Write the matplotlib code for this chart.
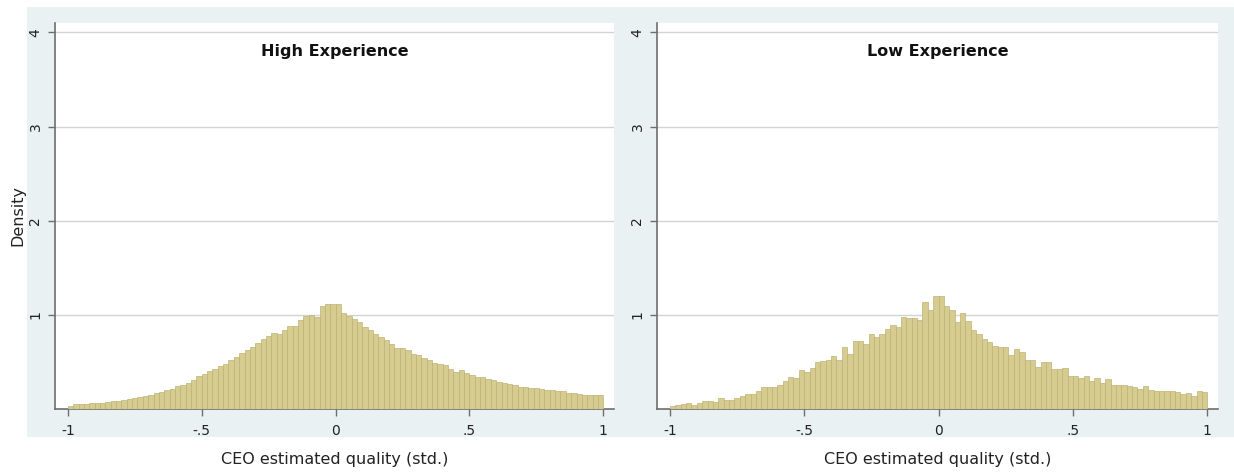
import numpy as np
import matplotlib
matplotlib.use("Agg")
import matplotlib.pyplot as plt
from matplotlib.patches import Rectangle

# histogram densities, 100 bins of width .02 on [-1, 1]
bin_edges = np.linspace(-1, 1, 101)

high_exp = [0.036, 0.054, 0.054, 0.056, 0.06, 0.064, 0.068, 0.075, 0.08, 0.09,
            0.10, 0.105, 0.115, 0.125, 0.14, 0.15, 0.165, 0.18, 0.20, 0.215,
            0.24, 0.26, 0.28, 0.31, 0.35, 0.37, 0.40, 0.43, 0.46, 0.48,
            0.52, 0.55, 0.60, 0.625, 0.66, 0.70, 0.74, 0.78, 0.81, 0.80,
            0.84, 0.88, 0.88, 0.946, 0.99, 1.00, 0.975, 1.09, 1.12, 1.12,
            1.12, 1.025, 0.99, 0.955, 0.92, 0.875, 0.84, 0.80, 0.77, 0.73,
            0.69, 0.645, 0.645, 0.63, 0.585, 0.575, 0.545, 0.525, 0.49, 0.48,
            0.47, 0.43, 0.39, 0.415, 0.38, 0.36, 0.345, 0.335, 0.315, 0.305,
            0.29, 0.28, 0.265, 0.255, 0.235, 0.23, 0.225, 0.22, 0.215, 0.205,
            0.20, 0.195, 0.19, 0.175, 0.165, 0.16, 0.15, 0.145, 0.145, 0.145]

low_exp = [0.03, 0.04, 0.055, 0.065, 0.047, 0.065, 0.09, 0.09, 0.075, 0.12,
           0.10, 0.10, 0.12, 0.137, 0.16, 0.155, 0.19, 0.23, 0.234, 0.234,
           0.25, 0.30, 0.34, 0.33, 0.41, 0.39, 0.435, 0.50, 0.51, 0.52,
           0.56, 0.52, 0.66, 0.58, 0.72, 0.72, 0.69, 0.80, 0.76, 0.80,
           0.845, 0.89, 0.87, 0.975, 0.965, 0.965, 0.946, 1.14, 1.05, 1.20,
           1.20, 1.09, 1.05, 0.92, 1.02, 0.94, 0.84, 0.80, 0.74, 0.71,
           0.67, 0.66, 0.66, 0.57, 0.64, 0.61, 0.52, 0.52, 0.45, 0.50,
           0.50, 0.42, 0.43, 0.44, 0.35, 0.35, 0.33, 0.35, 0.30, 0.33,
           0.28, 0.32, 0.25, 0.25, 0.26, 0.24, 0.23, 0.21, 0.24, 0.20,
           0.19, 0.19, 0.19, 0.19, 0.18, 0.16, 0.17, 0.14, 0.19, 0.18]

panels = [("High Experience", high_exp), ("Low Experience", low_exp)]

xticks = [-1, -0.5, 0, 0.5, 1]
xticklabels = ["-1", "-.5", "0", ".5", "1"]
yticks = [1, 2, 3, 4]

W, H = 1234, 475
fig = plt.figure(figsize=(W / 100, H / 100), dpi=100)
fig.patch.set_facecolor("white")
# light bluish graph region behind both panels
fig.patches.append(Rectangle((27 / W, 38 / H), 1 - 27 / W, 430 / H,
                             transform=fig.transFigure, facecolor="#EAF1F3",
                             edgecolor="none", zorder=-1))

axis_gray = "#6E6E6E"
lefts = [55, 657]
widths = [559, 561]

for k, (title, dens) in enumerate(panels):
    ax = fig.add_axes([lefts[k] / W, (H - 409) / H, widths[k] / W, 386 / H])
    ax.set_facecolor("white")
    ax.bar(bin_edges[:-1], dens, width=np.diff(bin_edges), align="edge",
           color="#D6CC8F", edgecolor="#BDB275", linewidth=0.5, zorder=3)

    ax.set_xlim(-1.048, 1.04)
    ax.set_ylim(0, 4.1)
    ax.set_xticks(xticks)
    ax.set_xticklabels(xticklabels, fontsize=10)
    ax.set_yticks(yticks)
    ax.set_yticklabels([str(t) for t in yticks], fontsize=10, rotation=90, va="center")
    ax.yaxis.grid(True, color="#D3D3D3", linewidth=1)
    ax.set_axisbelow(True)

    for s in ["top", "right"]:
        ax.spines[s].set_visible(False)
    for s in ["left", "bottom"]:
        ax.spines[s].set_color(axis_gray)
        ax.spines[s].set_linewidth(1.2)
    ax.tick_params(axis="both", direction="out", length=5, width=1,
                   color=axis_gray, labelcolor="#222222", pad=4)
    ax.tick_params(axis="x", pad=6)

    ax.text(0.5, 0.925, title, transform=ax.transAxes, ha="center", va="center",
            fontsize=11.5, fontweight="bold", color="#111111")
    ax.set_xlabel("CEO estimated quality (std.)", fontsize=11.5, color="#222222",
                  labelpad=10)

fig.text(18 / W, (H - 216) / H, "Density", rotation=90, ha="center", va="center",
         fontsize=11.5, color="#222222")

fig.savefig("out.png", dpi=100)
